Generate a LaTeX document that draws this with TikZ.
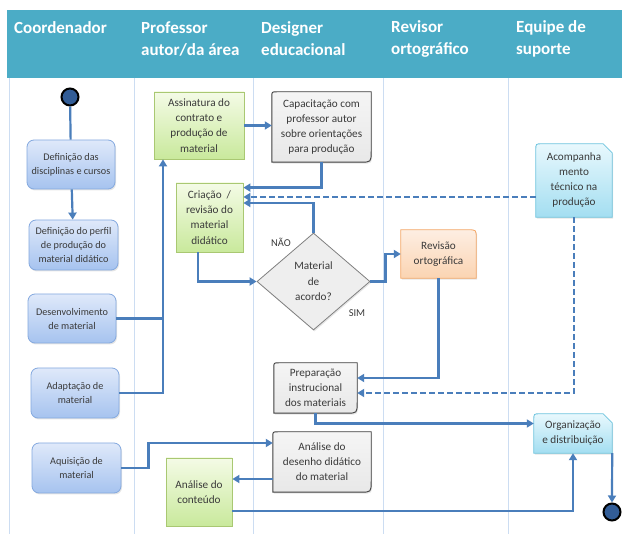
\documentclass[tikz,border=0pt]{standalone}
\usepackage{fontspec}
\setmainfont{Carlito}
\usetikzlibrary{arrows.meta,calc,shapes.geometric,shadows}
\pgfdeclarelayer{bg}\pgfdeclarelayer{shp}
\pgfsetlayers{bg,shp,main}
\definecolor{headc}{HTML}{4BACC6}
\definecolor{lanec}{HTML}{CCDDF2}
\definecolor{linec}{HTML}{4A7EBB}
\definecolor{blueT}{HTML}{DFE9FA}
\definecolor{blueB}{HTML}{A6C3EF}
\definecolor{blueD}{HTML}{84A9DF}
\definecolor{greenT}{HTML}{F4FBE6}
\definecolor{greenB}{HTML}{C9E99C}
\definecolor{greenD}{HTML}{A9C872}
\definecolor{grayF}{HTML}{F5F5F5}
\definecolor{grayB}{HTML}{E8E8E8}
\definecolor{grayD}{HTML}{404040}
\definecolor{orT}{HTML}{FDEEE2}
\definecolor{orB}{HTML}{FBD4B2}
\definecolor{orD}{HTML}{F4A766}
\definecolor{cyT}{HTML}{E8F8FD}
\definecolor{cyB}{HTML}{A3DEF1}
\definecolor{cyD}{HTML}{6EC4DE}
\definecolor{txt}{HTML}{3A3A3A}
\definecolor{dotc}{HTML}{325D97}
\definecolor{diaF}{HTML}{EEEEEE}
\definecolor{diaD}{HTML}{808080}
\tikzset{
  every node/.style={text=txt},
  shad/.style={drop shadow={shadow xshift=1pt,shadow yshift=-1.5pt,opacity=0.2}},
  bluebox/.style={draw=blueD,line width=0.8pt,rounded corners=7pt,top color=blueT,bottom color=blueB,
    align=center,inner sep=1pt,font=\fontsize{10.2}{14}\selectfont,shad},
  greenbox/.style={draw=greenD,line width=0.8pt,top color=greenT,bottom color=greenB,
    align=center,inner sep=1pt,font=\fontsize{11.2}{15.3}\selectfont,shad},
  plainbox/.style={align=center,inner sep=1pt,font=\fontsize{11.2}{15}\selectfont},
  grayfill/.style={draw=grayD,line width=0.9pt,top color=grayF,bottom color=grayB,shad},
  orfill/.style={draw=orD,line width=0.8pt,top color=orT,bottom color=orB,shad},
  cyfill/.style={draw=cyD,line width=0.8pt,top color=cyT,bottom color=cyB,shad},
  flow/.style={draw=linec,line width=2.2pt},
  arr/.style={flow,-{Triangle[length=7pt,width=8pt]}},
  dasharr/.style={arr,dash pattern=on 6pt off 3pt},
  dotnode/.style={circle,minimum size=17pt,inner sep=0pt,fill=dotc,draw=black,line width=2pt},
  headtxt/.style={text=white,font=\fontsize{17}{22}\selectfont\bfseries,align=left,anchor=west,inner sep=0pt},
  lab/.style={font=\fontsize{10.5}{12}\selectfont,inner sep=0pt},
  lane/.style={draw=lanec,line width=0.7pt}
}
\newcommand{\grayshape}[1]{\begin{pgfonlayer}{shp}\path[grayfill] (#1.south west) -- ($(#1.north west)+(0,5)$) .. controls (#1.north west) .. ($(#1.north west)+(5,0)$) -- (#1.north east) -- ($(#1.south east)+(0,-11)$) .. controls (#1.south east) .. ($(#1.south east)+(-11,0)$) -- cycle;\end{pgfonlayer}}
\newcommand{\cyanshape}[1]{\begin{pgfonlayer}{shp}\path[cyfill] (#1.south west) -- ($(#1.north west)+(0,6)$) .. controls (#1.north west) .. ($(#1.north west)+(6,0)$) -- ($(#1.north east)+(-9,0)$) -- ($(#1.north east)+(0,9)$) -- (#1.south east) -- cycle;\end{pgfonlayer}}
\newcommand{\orangeshape}[1]{\begin{pgfonlayer}{shp}\path[orfill] (#1.south west) -- (#1.north west) -- ($(#1.north east)+(-8,0)$) .. controls (#1.north east) .. ($(#1.north east)+(0,8)$) -- (#1.south east) -- cycle;\end{pgfonlayer}}
\begin{document}
\begin{tikzpicture}[x=1pt,y=-1pt]
\useasboundingbox (0,0) rectangle (622,534);
\begin{pgfonlayer}{bg}
\fill[white] (0,0) rectangle (622,534);
\fill[headc] (7,10) rectangle (622,78);
\foreach \x in {9,134,253,383,508} \draw[lane] (\x,78) -- (\x,534);
\end{pgfonlayer}
% header
\node[headtxt] (h1) at (14,28) {Coordenador};
\node[headtxt] (h2) at (141,39) {Professor\\autor/da área};
\node[headtxt] (h3) at (261,39) {Designer\\educacional};
\node[headtxt] (h4) at (391,39) {Revisor\\ortográfico};
\node[headtxt] (h5) at (516,39) {Equipe de\\suporte};
% coordenador lane
\node[dotnode] (start) at (70,97) {};
\node[bluebox,minimum width=88pt,minimum height=49pt] (def1) at (71,164.5) {Definição das\\disciplinas e cursos};
\node[bluebox,minimum width=89pt,minimum height=50pt] (def2) at (73.5,245) {Definição do perfil\\de produção do\\material didático};
\node[bluebox,minimum width=88pt,minimum height=49pt] (dev) at (72,318.5) {Desenvolvimento\\de material};
\node[bluebox,minimum width=88pt,minimum height=50pt] (adapt) at (75,393) {Adaptação de\\material};
\node[bluebox,minimum width=89pt,minimum height=50pt] (aquis) at (76.5,468) {Aquisição de\\material};
% professor lane
\node[greenbox,minimum width=90pt,minimum height=67pt] (assin) at (199,125.5) {Assinatura do\\contrato e\\produção de\\material};
\node[greenbox,minimum width=67pt,minimum height=69pt] (criacao) at (209.5,217.5) {Criação~~/\\revisão do\\material\\didático};
\node[greenbox,minimum width=66pt,minimum height=68pt] (analcont) at (199,492) {Análise do\\conteúdo};
% designer lane
\node[plainbox,minimum width=99pt,minimum height=70pt] (capac) at (321.5,127) {Capacitação com\\professor autor\\sobre orientações\\para produção};
\grayshape{capac}
\node[diamond,draw=diaD,line width=0.8pt,fill=diaF,minimum width=113pt,minimum height=97pt,inner sep=0pt,align=center,font=\fontsize{11.2}{15.5}\selectfont,shad] (dia) at (313.5,281.5) {Material\\de\\acordo?};
\node[lab] (nao) at (281,242) {NÃO};
\node[lab] (sim) at (357,313) {SIM};
\node[plainbox,minimum width=83pt,minimum height=50pt] (prep) at (315.5,388) {Preparação\\instrucional\\dos materiais};
\grayshape{prep}
\node[plainbox,minimum width=98pt,minimum height=60pt] (analdes) at (322,462) {Análise do\\desenho didático\\do material};
\grayshape{analdes}
% revisor lane
\node[plainbox,minimum width=75pt,minimum height=48pt] (revisao) at (438.5,254) {Revisão\\ortográfica};
\orangeshape{revisao}
% suporte lane
\node[plainbox,minimum width=76pt,minimum height=73pt] (acomp) at (574,180.5) {Acompanha\\mento\\técnico na\\produção};
\cyanshape{acomp}
\node[plainbox,minimum width=78pt,minimum height=39pt] (org) at (573,433.5) {Organização\\e distribuição};
\cyanshape{org}
\node[dotnode] (end) at (612,512) {};
% connectors
\coordinate (jx) at (163,0);
\draw[flow] (start) -- (def1);
\draw[arr] (def1) -- (def2);
\draw[flow] (dev.east) -- (dev.east -| jx);
\draw[arr] (adapt.east) -| (jx |- assin.south);
\draw[arr] (assin.east) -- (assin.east -| capac.west);
\coordinate (c1) at ([yshift=-5pt]criacao.north east);
\draw[arr] (capac.south) |- (c1);
\coordinate (d1) at ([yshift=-16.5pt]acomp.west);
\draw[dasharr] (d1) -- (d1 -| criacao.east);
\coordinate (c2) at ([yshift=14.5pt]criacao.east);
\draw[arr] (dia.north) |- (c2);
\coordinate (c3) at ([xshift=-11.5pt]criacao.south);
\draw[arr] (c3) |- (dia.west);
\draw[arr] (dia.east) -- ++(15,0) |- (revisao.west);
\coordinate (p1) at ([yshift=10pt]prep.east);
\coordinate (p2) at ([yshift=-5pt]prep.east);
\draw[arr] (revisao.south) |- (p1);
\draw[dasharr] (acomp.south) |- (p2);
\coordinate (o1) at ([yshift=10pt]org.west);
\draw[arr] (prep.south) |- (o1);
\coordinate (a1) at ([yshift=19pt]analdes.west);
\draw[arr] (aquis.east) -- ++(27,0) |- (a1);
\coordinate (a2) at ([yshift=-17pt]analdes.west);
\draw[arr] (a2) -- (a2 -| analcont.east);
\coordinate (a3) at ([yshift=-19pt]analcont.east);
\draw[arr] (a3) -| (org.south);
\draw[arr] (org.south east) -- (end.north);
\end{tikzpicture}
\end{document}
